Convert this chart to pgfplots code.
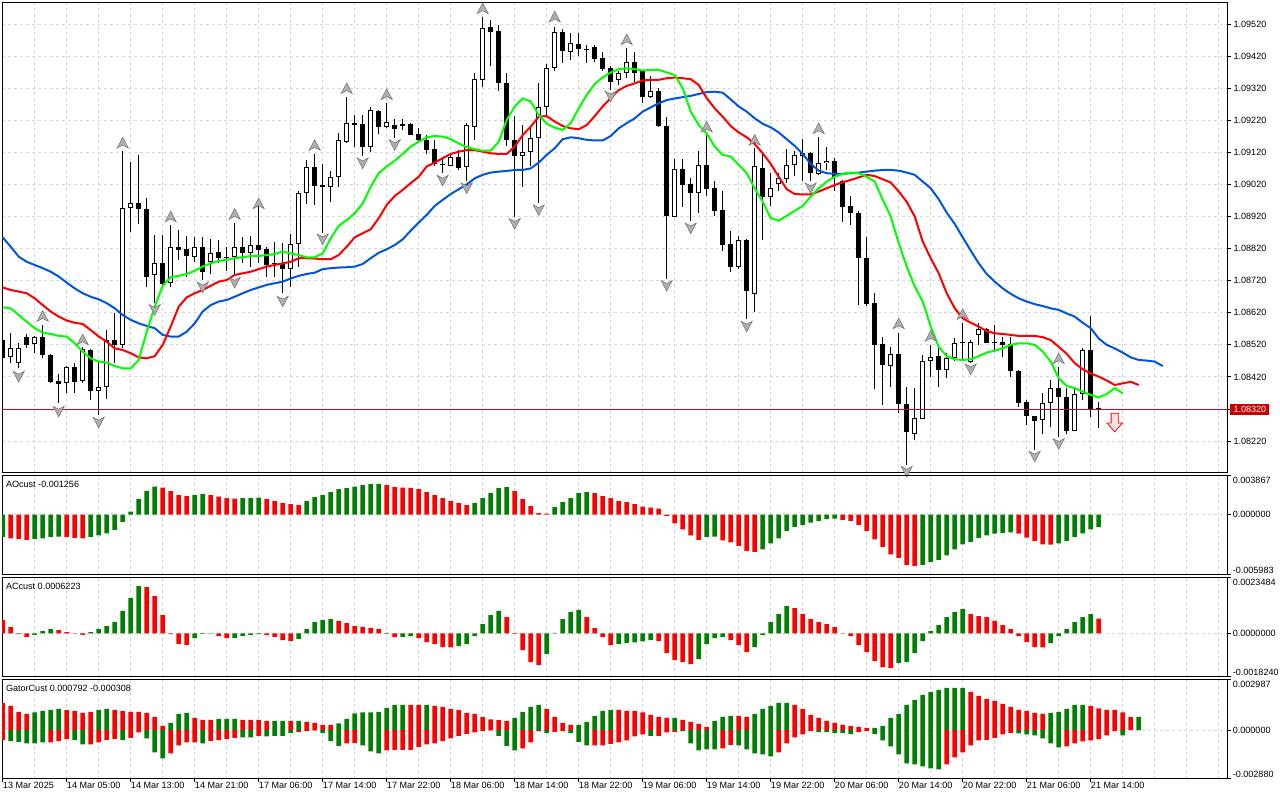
\documentclass[border=0pt]{standalone}
\usepackage{fontspec}
\setmainfont{Liberation Sans}
\usepackage{pgfplots}
\pgfplotsset{compat=1.18}
\usepackage{pgfplotstable}
\definecolor{jawc}{RGB}{0,85,221}
\definecolor{teethc}{RGB}{255,0,0}
\definecolor{lipsc}{RGB}{0,255,0}
\definecolor{hgreen}{RGB}{0,128,0}
\definecolor{hred}{RGB}{255,0,0}
\definecolor{gridc}{RGB}{216,216,216}
\definecolor{pricel}{RGB}{180,20,20}
\definecolor{pbox}{RGB}{200,0,0}
\definecolor{fracf}{RGB}{175,175,175}
\definecolor{fracd}{RGB}{115,115,115}
\definecolor{arrowf}{RGB}{255,228,228}

\pgfdeclareplotmark{fup}{%
  \pgfpathmoveto{\pgfqpoint{0pt}{4pt}}%
  \pgfpathlineto{\pgfqpoint{4.2pt}{-4pt}}%
  \pgfpathlineto{\pgfqpoint{0pt}{-1.8pt}}%
  \pgfpathlineto{\pgfqpoint{-4.2pt}{-4pt}}%
  \pgfpathclose\pgfusepathqfillstroke}
\pgfdeclareplotmark{fdown}{%
  \pgfpathmoveto{\pgfqpoint{0pt}{-4pt}}%
  \pgfpathlineto{\pgfqpoint{4.2pt}{4pt}}%
  \pgfpathlineto{\pgfqpoint{0pt}{1.8pt}}%
  \pgfpathlineto{\pgfqpoint{-4.2pt}{4pt}}%
  \pgfpathclose\pgfusepathqfillstroke}
\pgfdeclareplotmark{bigdown}{%
  \pgfpathmoveto{\pgfqpoint{-2.7pt}{0pt}}%
  \pgfpathlineto{\pgfqpoint{2.7pt}{0pt}}%
  \pgfpathlineto{\pgfqpoint{2.7pt}{-7.3pt}}%
  \pgfpathlineto{\pgfqpoint{5.8pt}{-7.3pt}}%
  \pgfpathlineto{\pgfqpoint{0pt}{-14pt}}%
  \pgfpathlineto{\pgfqpoint{-5.8pt}{-7.3pt}}%
  \pgfpathlineto{\pgfqpoint{-2.7pt}{-7.3pt}}%
  \pgfpathclose\pgfusepathqfillstroke}

\pgfplotstableread{
i O H L C
1 1.08481 1.08558 1.08463 1.08509
2 1.08463 1.08527 1.08447 1.08509
4 1.08522 1.08548 1.08496 1.08544
8 1.08400 1.08454 1.08371 1.08450
10 1.08407 1.08514 1.08402 1.08506
12 1.08377 1.08468 1.08301 1.08388
13 1.08388 1.08566 1.08350 1.08535
15 1.08519 1.09125 1.08509 1.08946
16 1.08946 1.09090 1.08873 1.08961
19 1.08737 1.08863 1.08652 1.08774
21 1.08712 1.08894 1.08699 1.08826
24 1.08795 1.08855 1.08779 1.08826
26 1.08779 1.08849 1.08741 1.08807
29 1.08793 1.08901 1.08735 1.08824
31 1.08807 1.08859 1.08764 1.08830
36 1.08758 1.08866 1.08699 1.08833
37 1.08833 1.09000 1.08764 1.08992
38 1.08992 1.09096 1.08959 1.09073
41 1.09011 1.09061 1.08966 1.09042
42 1.09042 1.09179 1.09013 1.09159
43 1.09153 1.09294 1.09150 1.09211
46 1.09136 1.09260 1.09122 1.09252
48 1.09200 1.09273 1.09195 1.09214
56 1.09079 1.09115 1.09076 1.09107
58 1.09073 1.09213 1.09032 1.09205
59 1.09200 1.09366 1.09157 1.09348
60 1.09346 1.09543 1.09323 1.09507
65 1.09110 1.09205 1.09011 1.09120
66 1.09120 1.09195 1.09076 1.09164
67 1.09164 1.09335 1.08963 1.09260
68 1.09260 1.09396 1.09233 1.09382
69 1.09382 1.09512 1.09375 1.09494
71 1.09432 1.09491 1.09408 1.09460
77 1.09344 1.09375 1.09330 1.09366
78 1.09366 1.09444 1.09351 1.09403
81 1.09294 1.09358 1.09289 1.09312
84 1.08920 1.09098 1.08918 1.09067
87 1.08992 1.09125 1.08932 1.09081
92 1.08764 1.08859 1.08756 1.08847
94 1.08678 1.09133 1.08624 1.09078
96 1.08982 1.09055 1.08953 1.09008
97 1.09022 1.09057 1.08998 1.09039
98 1.09036 1.09131 1.09026 1.09081
99 1.09081 1.09125 1.09046 1.09112
100 1.09110 1.09161 1.09032 1.09117
102 1.09053 1.09169 1.09050 1.09086
103 1.09086 1.09138 1.09065 1.09092
111 1.08454 1.08514 1.08390 1.08491
114 1.08241 1.08385 1.08224 1.08291
115 1.08289 1.08489 1.08288 1.08470
116 1.08470 1.08520 1.08419 1.08481
118 1.08442 1.08494 1.08416 1.08478
119 1.08478 1.08540 1.08470 1.08527
121 1.08468 1.08535 1.08465 1.08528
122 1.08551 1.08587 1.08520 1.08568
130 1.08286 1.08369 1.08242 1.08338
131 1.08338 1.08411 1.08263 1.08385
134 1.08253 1.08385 1.08253 1.08366
135 1.08366 1.08509 1.08348 1.08504
}\bull

\pgfplotstableread{
i O H L C
0 1.08535 1.08546 1.08468 1.08478
3 1.08544 1.08554 1.08509 1.08519
5 1.08544 1.08582 1.08478 1.08487
6 1.08487 1.08492 1.08400 1.08403
7 1.08407 1.08429 1.08338 1.08397
9 1.08450 1.08463 1.08371 1.08405
11 1.08504 1.08506 1.08348 1.08377
14 1.08535 1.08618 1.08465 1.08519
17 1.08961 1.09112 1.08897 1.08943
18 1.08943 1.08977 1.08699 1.08733
20 1.08774 1.08863 1.08699 1.08710
22 1.08826 1.08878 1.08785 1.08816
23 1.08818 1.08859 1.08731 1.08797
25 1.08826 1.08855 1.08722 1.08748
27 1.08811 1.08847 1.08774 1.08790
28 1.08794 1.08824 1.08751 1.08791
30 1.08824 1.08855 1.08774 1.08807
32 1.08830 1.08963 1.08774 1.08816
33 1.08818 1.08824 1.08733 1.08769
34 1.08776 1.08841 1.08731 1.08773
35 1.08771 1.08839 1.08681 1.08758
39 1.09073 1.09115 1.08957 1.09016
40 1.09018 1.09084 1.08870 1.09013
44 1.09211 1.09237 1.09138 1.09206
45 1.09209 1.09237 1.09109 1.09136
47 1.09249 1.09252 1.09177 1.09200
49 1.09205 1.09224 1.09166 1.09194
50 1.09207 1.09224 1.09190 1.09203
51 1.09209 1.09211 1.09173 1.09175
52 1.09176 1.09197 1.09148 1.09157
53 1.09159 1.09174 1.09115 1.09127
54 1.09130 1.09159 1.09076 1.09084
55 1.09083 1.09107 1.09057 1.09080
57 1.09107 1.09127 1.09065 1.09070
61 1.09512 1.09531 1.09389 1.09496
62 1.09498 1.09517 1.09312 1.09335
63 1.09335 1.09366 1.09140 1.09157
64 1.09159 1.09233 1.08920 1.09110
70 1.09494 1.09504 1.09400 1.09437
72 1.09458 1.09491 1.09420 1.09442
73 1.09441 1.09455 1.09400 1.09438
74 1.09447 1.09455 1.09403 1.09412
75 1.09413 1.09434 1.09373 1.09380
76 1.09382 1.09389 1.09314 1.09340
79 1.09403 1.09434 1.09340 1.09366
80 1.09372 1.09377 1.09275 1.09294
82 1.09312 1.09320 1.09200 1.09202
83 1.09202 1.09229 1.08724 1.08922
85 1.09067 1.09098 1.08951 1.09018
86 1.09022 1.09039 1.08907 1.08992
88 1.09081 1.09174 1.08985 1.09007
89 1.09008 1.09032 1.08922 1.08938
90 1.08940 1.09001 1.08814 1.08831
91 1.08833 1.08876 1.08748 1.08764
93 1.08847 1.08849 1.08600 1.08689
95 1.09070 1.09122 1.08847 1.08982
101 1.09117 1.09122 1.09032 1.09055
104 1.09093 1.09103 1.08998 1.09044
105 1.09031 1.09034 1.08904 1.08951
106 1.08953 1.08984 1.08894 1.08930
107 1.08932 1.08938 1.08644 1.08790
108 1.08792 1.08855 1.08641 1.08646
109 1.08652 1.08683 1.08381 1.08519
110 1.08523 1.08546 1.08333 1.08456
112 1.08492 1.08558 1.08307 1.08335
113 1.08336 1.08390 1.08146 1.08250
117 1.08485 1.08514 1.08388 1.08441
120 1.08529 1.08589 1.08473 1.08526
123 1.08568 1.08572 1.08525 1.08527
124 1.08530 1.08582 1.08499 1.08527
125 1.08528 1.08544 1.08481 1.08519
126 1.08522 1.08544 1.08421 1.08439
127 1.08439 1.08442 1.08327 1.08340
128 1.08341 1.08348 1.08270 1.08298
129 1.08298 1.08298 1.08192 1.08284
132 1.08385 1.08452 1.08234 1.08357
133 1.08357 1.08385 1.08242 1.08253
136 1.08504 1.08610 1.08296 1.08320
137 1.08322 1.08343 1.08260 1.08319
}\bear

\pgfplotstableread{
i jaw teeth lips
0 1.08855 1.08699 1.08637
1 1.08826 1.08691 1.08634
2 1.08795 1.08686 1.08613
3 1.08779 1.08681 1.08592
4 1.08769 1.08665 1.08572
5 1.08759 1.08644 1.08558
6 1.08748 1.08624 1.08554
7 1.08733 1.08608 1.08548
8 1.08714 1.08596 1.08546
9 1.08696 1.08589 1.08525
10 1.08681 1.08585 1.08499
11 1.08670 1.08566 1.08478
12 1.08662 1.08546 1.08468
13 1.08650 1.08530 1.08465
14 1.08634 1.08509 1.08454
15 1.08613 1.08504 1.08447
16 1.08598 1.08494 1.08447
17 1.08587 1.08481 1.08473
18 1.08579 1.08478 1.08561
19 1.08572 1.08485 1.08639
20 1.08551 1.08520 1.08704
21 1.08546 1.08577 1.08731
22 1.08546 1.08639 1.08735
23 1.08561 1.08668 1.08741
24 1.08587 1.08681 1.08751
25 1.08624 1.08691 1.08764
26 1.08644 1.08704 1.08774
27 1.08655 1.08717 1.08782
28 1.08660 1.08722 1.08785
29 1.08670 1.08738 1.08790
30 1.08681 1.08743 1.08793
31 1.08691 1.08748 1.08797
32 1.08699 1.08756 1.08797
33 1.08707 1.08764 1.08800
34 1.08712 1.08769 1.08803
35 1.08717 1.08774 1.08811
36 1.08727 1.08779 1.08805
37 1.08735 1.08790 1.08800
38 1.08741 1.08790 1.08793
39 1.08745 1.08789 1.08793
40 1.08756 1.08787 1.08805
41 1.08759 1.08787 1.08852
42 1.08761 1.08800 1.08891
43 1.08762 1.08826 1.08909
44 1.08764 1.08855 1.08930
45 1.08772 1.08868 1.08961
46 1.08790 1.08880 1.09013
47 1.08807 1.08915 1.09055
48 1.08818 1.08956 1.09076
49 1.08831 1.08984 1.09094
50 1.08849 1.09003 1.09115
51 1.08876 1.09024 1.09138
52 1.08901 1.09044 1.09153
53 1.08925 1.09076 1.09167
54 1.08953 1.09088 1.09171
55 1.08972 1.09102 1.09169
56 1.08990 1.09115 1.09161
57 1.09005 1.09122 1.09148
58 1.09020 1.09127 1.09136
59 1.09039 1.09127 1.09130
60 1.09050 1.09122 1.09125
61 1.09057 1.09117 1.09125
62 1.09060 1.09115 1.09153
63 1.09062 1.09115 1.09221
64 1.09065 1.09138 1.09263
65 1.09065 1.09174 1.09288
66 1.09070 1.09200 1.09278
67 1.09088 1.09231 1.09237
68 1.09112 1.09233 1.09209
69 1.09133 1.09216 1.09197
70 1.09161 1.09202 1.09190
71 1.09167 1.09195 1.09211
72 1.09164 1.09192 1.09257
73 1.09159 1.09205 1.09299
74 1.09157 1.09233 1.09333
75 1.09157 1.09263 1.09354
76 1.09171 1.09289 1.09369
77 1.09195 1.09314 1.09379
78 1.09211 1.09327 1.09382
79 1.09226 1.09335 1.09379
80 1.09247 1.09344 1.09375
81 1.09260 1.09346 1.09377
82 1.09273 1.09346 1.09377
83 1.09283 1.09351 1.09369
84 1.09288 1.09353 1.09361
85 1.09292 1.09351 1.09320
86 1.09296 1.09348 1.09247
87 1.09302 1.09330 1.09205
88 1.09308 1.09289 1.09179
89 1.09309 1.09257 1.09138
90 1.09306 1.09231 1.09112
91 1.09285 1.09202 1.09107
92 1.09263 1.09182 1.09081
93 1.09247 1.09167 1.09055
94 1.09226 1.09146 1.09008
95 1.09209 1.09117 1.08966
96 1.09198 1.09084 1.08915
97 1.09182 1.09044 1.08907
98 1.09161 1.09005 1.08922
99 1.09140 1.08990 1.08938
100 1.09115 1.08989 1.08953
101 1.09084 1.08989 1.08982
102 1.09063 1.08998 1.09008
103 1.09055 1.09008 1.09029
104 1.09053 1.09018 1.09044
105 1.09053 1.09027 1.09053
106 1.09055 1.09034 1.09057
107 1.09057 1.09042 1.09055
108 1.09060 1.09050 1.09044
109 1.09063 1.09046 1.09029
110 1.09065 1.09036 1.08972
111 1.09065 1.09026 1.08920
112 1.09063 1.08998 1.08837
113 1.09057 1.08966 1.08764
114 1.09050 1.08920 1.08702
115 1.09029 1.08842 1.08655
116 1.09008 1.08790 1.08577
117 1.08974 1.08743 1.08514
118 1.08932 1.08681 1.08485
119 1.08897 1.08634 1.08475
120 1.08855 1.08603 1.08473
121 1.08814 1.08589 1.08475
122 1.08774 1.08577 1.08485
123 1.08741 1.08563 1.08496
124 1.08717 1.08556 1.08502
125 1.08696 1.08554 1.08509
126 1.08679 1.08551 1.08520
127 1.08665 1.08548 1.08525
128 1.08655 1.08548 1.08525
129 1.08647 1.08548 1.08520
130 1.08641 1.08544 1.08499
131 1.08634 1.08535 1.08468
132 1.08629 1.08514 1.08416
133 1.08618 1.08492 1.08392
134 1.08608 1.08463 1.08385
135 1.08589 1.08444 1.08374
136 1.08572 1.08431 1.08364
137 1.08540 1.08421 1.08356
138 1.08520 1.08409 1.08367
139 1.08509 1.08395 1.08385
140 1.08496 1.08400 1.08369
141 1.08481 1.08405 nan
142 1.08473 1.08395 nan
143 1.08471 nan nan
144 1.08468 nan nan
145 1.08454 nan nan
}\allig

\pgfplotstableread{
i g r
0 -0.002224 nan
1 nan -0.002357
2 nan -0.002424
3 nan -0.002523
4 -0.002424 nan
5 -0.002357 nan
6 -0.002224 nan
7 -0.002191 nan
8 nan -0.002224
9 nan -0.002324
10 nan -0.002357
11 -0.002224 nan
12 -0.002058 nan
13 -0.001859 nan
14 -0.001527 nan
15 -0.000730 nan
16 0.000299 nan
17 0.001527 nan
18 0.002357 nan
19 0.002789 nan
20 nan 0.002689
21 nan 0.002324
22 nan 0.001926
23 nan 0.001826
24 0.001926 nan
25 0.002025 nan
26 nan 0.001926
27 nan 0.001793
28 nan 0.001627
29 nan 0.001594
30 0.001627 nan
31 0.001660 nan
32 0.001693 nan
33 nan 0.001527
34 nan 0.001328
35 nan 0.001129
36 nan 0.001029
37 nan 0.000930
38 0.001328 nan
39 0.001726 nan
40 0.001926 nan
41 0.002224 nan
42 0.002523 nan
43 0.002623 nan
44 0.002789 nan
45 0.002922 nan
46 0.003021 nan
47 0.003054 nan
48 nan 0.002922
49 nan 0.002722
50 nan 0.002689
51 nan 0.002656
52 nan 0.002523
53 nan 0.002224
54 nan 0.001926
55 nan 0.001627
56 nan 0.001328
57 nan 0.001129
58 nan 0.000930
59 0.001129 nan
60 0.001627 nan
61 0.002125 nan
62 0.002623 nan
63 0.002722 nan
64 nan 0.002324
65 nan 0.001527
66 nan 0.000830
67 nan 0.000133
68 nan 0.000100
69 0.000730 nan
70 0.001228 nan
71 0.001627 nan
72 0.002125 nan
73 0.002224 nan
74 nan 0.002125
75 nan 0.001826
76 nan 0.001627
77 nan 0.001328
78 nan 0.001228
79 nan 0.001029
80 nan 0.000797
81 nan 0.000697
82 nan 0.000598
83 nan -0.000133
84 nan -0.000863
85 nan -0.001461
86 nan -0.002058
87 nan -0.002523
88 -0.002224 nan
89 -0.002191 nan
90 nan -0.002556
91 nan -0.002756
92 nan -0.003121
93 nan -0.003619
94 nan -0.003718
95 -0.003453 nan
96 -0.002855 nan
97 -0.002357 nan
98 -0.001627 nan
99 -0.001228 nan
100 -0.001029 nan
101 -0.000797 nan
102 -0.000631 nan
103 -0.000432 nan
104 -0.000398 nan
105 nan -0.000531
106 nan -0.000631
107 nan -0.001029
108 nan -0.001627
109 nan -0.002457
110 nan -0.003220
111 nan -0.003951
112 nan -0.004316
113 nan -0.005013
114 nan -0.005113
115 -0.005013 nan
116 -0.004714 nan
117 -0.004515 nan
118 -0.004050 nan
119 -0.003453 nan
120 -0.002955 nan
121 -0.002722 nan
122 -0.002324 nan
123 -0.002058 nan
124 -0.001892 nan
125 -0.001826 nan
126 -0.001760 nan
127 nan -0.001892
128 nan -0.002291
129 nan -0.002623
130 nan -0.002955
131 nan -0.002988
132 -0.002855 nan
133 -0.002623 nan
134 -0.002224 nan
135 -0.001859 nan
136 -0.001461 nan
137 -0.001256 nan
}\ao

\pgfplotstableread{
i g r
0 nan 0.000562
1 nan 0.000267
2 nan -0.000028
3 nan -0.000141
4 -0.000056 nan
5 0.000098 nan
6 0.000183 nan
7 nan 0.000141
8 nan 0.000056
9 nan 0.000014
10 nan -0.000056
11 0.000056 nan
12 0.000183 nan
13 0.000309 nan
14 0.000478 nan
15 0.000955 nan
16 0.001489 nan
17 0.001995 nan
18 nan 0.001953
19 nan 0.001574
20 nan 0.000773
21 nan -0.000028
22 nan -0.000436
23 nan -0.000492
24 -0.000197 nan
25 -0.000014 nan
26 0.000014 nan
27 nan -0.000112
28 nan -0.000197
29 -0.000183 nan
30 -0.000098 nan
31 -0.000070 nan
32 -0.000028 nan
33 nan -0.000070
34 nan -0.000141
35 nan -0.000281
36 nan -0.000323
37 -0.000225 nan
38 0.000183 nan
39 0.000478 nan
40 0.000576 nan
41 0.000604 nan
42 nan 0.000534
43 nan 0.000436
44 nan 0.000309
45 nan 0.000281
46 nan 0.000239
47 nan 0.000183
48 nan -0.000014
49 nan -0.000155
50 -0.000141 nan
51 -0.000112 nan
52 nan -0.000197
53 nan -0.000365
54 nan -0.000450
55 nan -0.000576
56 nan -0.000590
57 -0.000534 nan
58 -0.000450 nan
59 -0.000112 nan
60 0.000393 nan
61 0.000773 nan
62 0.000955 nan
63 nan 0.000689
64 nan -0.000014
65 nan -0.000703
66 nan -0.001208
67 nan -0.001335
68 -0.000871 nan
69 0.000028 nan
70 0.000604 nan
71 0.000913 nan
72 0.000998 nan
73 nan 0.000689
74 nan 0.000225
75 nan -0.000155
76 nan -0.000492
77 -0.000436 nan
78 -0.000393 nan
79 -0.000379 nan
80 -0.000337 nan
81 -0.000281 nan
82 nan -0.000323
83 nan -0.000829
84 nan -0.001124
85 nan -0.001208
86 nan -0.001293
87 -0.001082 nan
88 -0.000450 nan
89 -0.000197 nan
90 -0.000141 nan
91 nan -0.000281
92 nan -0.000492
93 nan -0.000787
94 -0.000576 nan
95 -0.000070 nan
96 0.000478 nan
97 0.000815 nan
98 0.001152 nan
99 nan 0.001068
100 nan 0.000815
101 nan 0.000604
102 nan 0.000478
103 nan 0.000393
104 nan 0.000267
105 nan 0.000014
106 nan -0.000112
107 nan -0.000492
108 nan -0.000787
109 nan -0.001166
110 nan -0.001419
111 nan -0.001461
112 -0.001251 nan
113 -0.001208 nan
114 -0.000829 nan
115 -0.000323 nan
116 0.000098 nan
117 0.000351 nan
118 0.000689 nan
119 0.000899 nan
120 0.001026 nan
121 nan 0.000815
122 nan 0.000731
123 nan 0.000689
124 nan 0.000534
125 nan 0.000351
126 nan 0.000183
127 nan -0.000112
128 nan -0.000365
129 nan -0.000576
130 nan -0.000590
131 -0.000408 nan
132 -0.000112 nan
133 0.000183 nan
134 0.000478 nan
135 0.000689 nan
136 0.000815 nan
137 nan 0.000622
}\ac

\pgfplotstableread{
i ug ur lg lr
0 nan 0.001620 nan -0.000593
1 nan 0.001442 -0.000652 nan
2 nan 0.001086 -0.000691 nan
3 nan 0.000968 -0.000790 nan
4 0.001047 nan -0.000790 nan
5 0.001146 nan -0.000731 nan
6 0.001205 nan nan -0.000731
7 0.001264 nan nan -0.000652
8 nan 0.001185 nan -0.000533
9 nan 0.001146 -0.000593 nan
10 nan 0.001027 -0.000849 nan
11 nan 0.001086 nan -0.000849
12 0.001205 nan nan -0.000731
13 0.001264 nan nan -0.000573
14 nan 0.001205 nan -0.000514
15 nan 0.001126 -0.000593 nan
16 nan 0.001086 nan -0.000454
17 nan 0.001086 nan -0.000138
18 nan 0.001027 -0.000494 nan
19 nan 0.000790 -0.001323 nan
20 nan 0.000257 -0.001679 nan
21 0.000435 nan nan -0.001383
22 0.000968 nan nan -0.000909
23 0.001027 nan nan -0.000731
24 nan 0.000731 nan -0.000731
25 nan 0.000612 -0.000790 nan
26 nan 0.000612 nan -0.000652
27 0.000672 nan nan -0.000593
28 0.000672 nan nan -0.000533
29 0.000672 nan nan -0.000454
30 nan 0.000612 -0.000435 nan
31 nan 0.000612 -0.000435 nan
32 nan 0.000612 nan -0.000336
33 nan 0.000553 -0.000375 nan
34 0.000553 nan -0.000336 nan
35 0.000553 nan -0.000336 nan
36 nan 0.000553 -0.000178 nan
37 0.000553 nan nan -0.000099
38 nan 0.000494 nan -0.000059
39 nan 0.000435 nan -0.000020
40 nan 0.000316 -0.000178 nan
41 nan 0.000316 -0.000652 nan
42 0.000395 nan -0.000928 nan
43 0.000672 nan nan -0.000790
44 0.000988 nan nan -0.000770
45 0.001047 nan -0.000909 nan
46 0.001047 nan -0.001264 nan
47 0.001086 nan -0.001383 nan
48 0.001323 nan nan -0.001205
49 0.001501 nan nan -0.001165
50 0.001501 nan nan -0.001165
51 nan 0.001501 nan -0.001165
52 nan 0.001501 nan -0.000988
53 0.001501 nan nan -0.000849
54 nan 0.001442 nan -0.000790
55 nan 0.001383 nan -0.000652
56 nan 0.001264 nan -0.000494
57 nan 0.001185 nan -0.000336
58 nan 0.001027 nan -0.000217
59 nan 0.000968 nan -0.000138
60 nan 0.000790 nan -0.000059
61 nan 0.000632 nan -0.000020
62 nan 0.000593 -0.000336 nan
63 nan 0.000553 -0.000928 nan
64 0.000731 nan -0.001205 nan
65 0.001086 nan nan -0.001086
66 0.001383 nan nan -0.000731
67 0.001501 nan nan -0.000059
68 nan 0.001264 -0.000178 nan
69 nan 0.000790 nan -0.000099
70 nan 0.000435 nan -0.000059
71 nan 0.000316 -0.000178 nan
72 0.000316 nan -0.000691 nan
73 0.000494 nan -0.000909 nan
74 0.000849 nan nan -0.000909
75 0.001146 nan nan -0.000909
76 0.001205 nan nan -0.000810
77 nan 0.001205 nan -0.000731
78 nan 0.001146 nan -0.000612
79 nan 0.001146 nan -0.000375
80 nan 0.001047 nan -0.000257
81 nan 0.000909 -0.000336 nan
82 nan 0.000790 nan -0.000336
83 nan 0.000731 nan -0.000138
84 0.000731 nan nan -0.000099
85 nan 0.000612 -0.000059 nan
86 nan 0.000494 -0.000790 nan
87 nan 0.000375 -0.001205 nan
88 nan 0.000198 -0.001146 nan
89 0.000553 nan -0.001146 nan
90 0.000790 nan nan -0.001086
91 0.000849 nan nan -0.000869
92 nan 0.000849 -0.000909 nan
93 nan 0.000790 -0.001146 nan
94 0.000968 nan -0.001383 nan
95 0.001264 nan -0.001442 nan
96 0.001442 nan -0.001560 nan
97 0.001620 nan nan -0.001323
98 0.001620 nan nan -0.000790
99 nan 0.001501 nan -0.000435
100 nan 0.001264 nan -0.000257
101 nan 0.000909 nan -0.000059
102 nan 0.000731 -0.000119 nan
103 nan 0.000553 -0.000119 nan
104 nan 0.000435 -0.000178 nan
105 nan 0.000316 -0.000178 nan
106 nan 0.000257 -0.000237 nan
107 nan 0.000198 nan -0.000119
108 nan 0.000138 nan -0.000059
109 0.000138 nan -0.000237 nan
110 0.000257 nan -0.000612 nan
111 0.000731 nan -0.000968 nan
112 0.000968 nan -0.001442 nan
113 0.001501 nan -0.001975 nan
114 0.001797 nan -0.002034 nan
115 0.002094 nan -0.002153 nan
116 0.002271 nan -0.002271 nan
117 0.002390 nan -0.002331 nan
118 0.002508 nan nan -0.002034
119 0.002508 nan nan -0.001620
120 0.002508 nan nan -0.001323
121 nan 0.002271 nan -0.000909
122 nan 0.002034 nan -0.000612
123 nan 0.001857 nan -0.000573
124 nan 0.001738 nan -0.000454
125 nan 0.001560 nan -0.000257
126 nan 0.001383 nan -0.000158
127 nan 0.001205 -0.000198 nan
128 nan 0.001146 -0.000257 nan
129 nan 0.001027 -0.000316 nan
130 nan 0.000968 -0.000494 nan
131 0.001027 nan -0.000790 nan
132 0.001086 nan -0.001027 nan
133 0.001264 nan nan -0.000968
134 0.001501 nan nan -0.000790
135 0.001501 nan nan -0.000672
136 nan 0.001442 nan -0.000612
137 nan 0.001284 nan -0.000533
138 nan 0.001205 nan -0.000316
139 nan 0.001205 nan -0.000059
140 nan 0.001047 -0.000308 nan
141 nan 0.000771 nan nan
142 0.000792 nan nan nan
}\gator

\tikzset{lbl/.style={font=\fontsize{6.8}{8}\selectfont, inner sep=0pt, anchor=west}}
\pgfplotsset{
  panel/.style={
    scale only axis, width=919.125pt, xmin=-0.0875, xmax=153.1,
    anchor=south west,
    scaled x ticks=false, scaled y ticks=false,
    axis line style={line width=0.75pt, black},
    clip mode=individual,
    xtick={0,4,...,152}, xticklabels={}, xmajorgrids,
    xtick style={draw=none},
    grid style={draw=gridc, line width=0.75pt, dash pattern=on 2.25pt off 2.25pt},
    minor grid style={draw=gridc, line width=0.75pt, dash pattern=on 2.25pt off 2.25pt},
    ytick pos=right, tick align=outside, major tick length=2.5pt,
    ytick style={draw=black, line width=0.75pt},
    yticklabels={},
  },
  hist/.style={ybar, bar width=3.4pt, bar shift=0pt, draw=none},
}

\begin{document}
\begin{tikzpicture}[x=1pt,y=1pt]
\useasboundingbox (0,0) rectangle (960,-600);

% ---------------- main price panel
\begin{axis}[panel, at={(1.5pt,-354.525pt)}, height=352.65pt,
  ymin=1.081216, ymax=1.09587, ymajorgrids,
  ytick={1.0822,1.0832,1.0842,1.0852,1.0862,1.0872,1.0882,1.0892,1.0902,1.0912,1.0922,1.0932,1.0942,1.0952}]
% wicks
\addplot[draw=none, mark=none, error bars/.cd, y dir=plus, y explicit, error mark=none,
  error bar style={draw=black, line width=0.75pt}]
  table[x=i, y=L, y error plus expr=\thisrow{H}-\thisrow{L}] {\bull};
\addplot[draw=none, mark=none, error bars/.cd, y dir=plus, y explicit, error mark=none,
  error bar style={draw=black, line width=0.75pt}]
  table[x=i, y=L, y error plus expr=\thisrow{H}-\thisrow{L}] {\bear};
% bear bodies
\addplot[draw=none, mark=none, error bars/.cd, y dir=plus, y explicit, error mark=none,
  error bar style={draw=black, line width=3.75pt}]
  table[x=i, y=C, y error plus expr=\thisrow{O}-\thisrow{C}] {\bear};
% bull bodies
\addplot[draw=none, mark=none, error bars/.cd, y dir=plus, y explicit, error mark=none,
  error bar style={draw=black, line width=3.75pt}]
  table[x=i, y=O, y error plus expr=\thisrow{C}-\thisrow{O}] {\bull};
\addplot[draw=none, mark=none, error bars/.cd, y dir=plus, y explicit, error mark=none,
  error bar style={draw=white, line width=2.25pt, shorten <=0.75pt, shorten >=0.75pt}]
  table[x=i, y=O, y error plus expr=\thisrow{C}-\thisrow{O}] {\bull};
% price line
\addplot[pricel, line width=0.75pt] coordinates {(-1,1.0832) (160,1.0832)};
% alligator
\addplot[jawc, line width=1.5pt] table[x=i, y=jaw] {\allig};
\addplot[teethc, line width=1.5pt] table[x=i, y=teeth] {\allig};
\addplot[lipsc, line width=1.5pt] table[x=i, y=lips] {\allig};
% fractals
\addplot[only marks, mark=fup, mark options={fill=fracf, draw=fracd, line width=0.4pt}] coordinates {
(5,1.08610) (10,1.08537) (15,1.09150) (21,1.08920) (29,1.08928) (32,1.08961) (39,1.09143)
(43,1.09320) (48,1.09301) (60,1.09569) (69,1.09543) (78,1.09472) (88,1.09200) (94,1.09159)
(102,1.09195) (112,1.08587) (116,1.08548) (120,1.08616) (132,1.08478)};
\addplot[only marks, mark=fdown, mark options={fill=fracf, draw=fracd, line width=0.4pt}] coordinates {
(2,1.08421) (7,1.08312) (12,1.08278) (19,1.08629) (25,1.08699) (29,1.08714) (35,1.08655)
(40,1.08849) (45,1.09086) (49,1.09143) (55,1.09032) (58,1.09008) (64,1.08897) (67,1.08940)
(76,1.09294) (83,1.08704) (86,1.08883) (93,1.08577) (101,1.09008) (113,1.08125) (121,1.08444)
(129,1.08172) (132,1.08211)};
% sell arrow
\addplot[only marks, mark=bigdown, mark options={fill=arrowf, draw=red, line width=0.6pt}] coordinates {(139,1.08307)};
% price scale labels
\node[lbl, xshift=4.35pt] at (axis cs:153.1,1.0952) {1.09520};
\node[lbl, xshift=4.35pt] at (axis cs:153.1,1.0942) {1.09420};
\node[lbl, xshift=4.35pt] at (axis cs:153.1,1.0932) {1.09320};
\node[lbl, xshift=4.35pt] at (axis cs:153.1,1.0922) {1.09220};
\node[lbl, xshift=4.35pt] at (axis cs:153.1,1.0912) {1.09120};
\node[lbl, xshift=4.35pt] at (axis cs:153.1,1.0902) {1.09020};
\node[lbl, xshift=4.35pt] at (axis cs:153.1,1.0892) {1.08920};
\node[lbl, xshift=4.35pt] at (axis cs:153.1,1.0882) {1.08820};
\node[lbl, xshift=4.35pt] at (axis cs:153.1,1.0872) {1.08720};
\node[lbl, xshift=4.35pt] at (axis cs:153.1,1.0862) {1.08620};
\node[lbl, xshift=4.35pt] at (axis cs:153.1,1.0852) {1.08520};
\node[lbl, xshift=4.35pt] at (axis cs:153.1,1.0842) {1.08420};
\node[lbl, xshift=4.35pt] at (axis cs:153.1,1.0822) {1.08220};
\node[lbl, fill=pbox, text=white, inner xsep=2.4pt, inner ysep=1.7pt, xshift=1.9pt] at (axis cs:153.1,1.0832) {1.08320};
\end{axis}

% ---------------- AO panel
\begin{axis}[panel, at={(1.5pt,-431.025pt)}, height=74.25pt,
  ymin=-0.005983, ymax=0.003867, ytick={0}, ymajorgrids,
  extra y ticks={-0.005983,0.003867}, extra y tick labels={}, extra y tick style={ymajorgrids=false}]
\addplot[hist, fill=hgreen] table[x=i, y=g] {\ao};
\addplot[hist, fill=hred] table[x=i, y=r] {\ao};
\node[lbl, xshift=2.8pt, yshift=-6.75pt] at (axis description cs:0,1) {AOcust -0.001256};
\node[lbl, xshift=3.75pt, yshift=-3.75pt] at (axis cs:153.1,0.003867) {0.003867};
\node[lbl, xshift=3.75pt] at (axis cs:153.1,0) {0.000000};
\node[lbl, xshift=3.75pt, yshift=3.5pt] at (axis cs:153.1,-0.005983) {-0.005983};
\end{axis}

% ---------------- AC panel
\begin{axis}[panel, at={(1.5pt,-507.525pt)}, height=74.25pt,
  ymin=-0.0018240, ymax=0.0023484, ytick={0}, ymajorgrids,
  extra y ticks={-0.0018240,0.0023484}, extra y tick labels={}, extra y tick style={ymajorgrids=false}]
\addplot[hist, fill=hgreen] table[x=i, y=g] {\ac};
\addplot[hist, fill=hred] table[x=i, y=r] {\ac};
\node[lbl, xshift=2.8pt, yshift=-6.75pt] at (axis description cs:0,1) {ACcust 0.0006223};
\node[lbl, xshift=3.75pt, yshift=-3.75pt] at (axis cs:153.1,0.0023484) {0.0023484};
\node[lbl, xshift=3.75pt] at (axis cs:153.1,0) {0.0000000};
\node[lbl, xshift=3.75pt, yshift=3.5pt] at (axis cs:153.1,-0.0018240) {-0.0018240};
\end{axis}

% ---------------- Gator panel
\begin{axis}[panel, at={(1.5pt,-584.025pt)}, height=74.25pt,
  ymin=-0.002880, ymax=0.002987, ytick={0}, ymajorgrids,
  extra y ticks={-0.002880,0.002987}, extra y tick labels={}, extra y tick style={ymajorgrids=false},
  xtick={0,8,...,136}, minor xtick={4,8,...,152}, xminorgrids, minor tick length=0pt,
  xtick pos=left, xtick style={draw=black, line width=0.75pt}]
\addplot[hist, fill=hgreen] table[x=i, y=ug] {\gator};
\addplot[hist, fill=hred] table[x=i, y=ur] {\gator};
\addplot[hist, fill=hgreen] table[x=i, y=lg] {\gator};
\addplot[hist, fill=hred] table[x=i, y=lr] {\gator};
\node[lbl, xshift=2.8pt, yshift=-6.75pt] at (axis description cs:0,1) {GatorCust 0.000792 -0.000308};
\node[lbl, xshift=3.75pt, yshift=-3.75pt] at (axis cs:153.1,0.002987) {0.002987};
\node[lbl, xshift=3.75pt] at (axis cs:153.1,0) {0.000000};
\node[lbl, xshift=3.75pt, yshift=3.5pt] at (axis cs:153.1,-0.002880) {-0.002880};
\node[lbl, anchor=north west, yshift=-2.2pt] at (axis cs:0,-0.00288) {13 Mar 2025};
\node[lbl, anchor=north west, yshift=-2.2pt] at (axis cs:8,-0.00288) {14 Mar 05:00};
\node[lbl, anchor=north west, yshift=-2.2pt] at (axis cs:16,-0.00288) {14 Mar 13:00};
\node[lbl, anchor=north west, yshift=-2.2pt] at (axis cs:24,-0.00288) {14 Mar 21:00};
\node[lbl, anchor=north west, yshift=-2.2pt] at (axis cs:32,-0.00288) {17 Mar 06:00};
\node[lbl, anchor=north west, yshift=-2.2pt] at (axis cs:40,-0.00288) {17 Mar 14:00};
\node[lbl, anchor=north west, yshift=-2.2pt] at (axis cs:48,-0.00288) {17 Mar 22:00};
\node[lbl, anchor=north west, yshift=-2.2pt] at (axis cs:56,-0.00288) {18 Mar 06:00};
\node[lbl, anchor=north west, yshift=-2.2pt] at (axis cs:64,-0.00288) {18 Mar 14:00};
\node[lbl, anchor=north west, yshift=-2.2pt] at (axis cs:72,-0.00288) {18 Mar 22:00};
\node[lbl, anchor=north west, yshift=-2.2pt] at (axis cs:80,-0.00288) {19 Mar 06:00};
\node[lbl, anchor=north west, yshift=-2.2pt] at (axis cs:88,-0.00288) {19 Mar 14:00};
\node[lbl, anchor=north west, yshift=-2.2pt] at (axis cs:96,-0.00288) {19 Mar 22:00};
\node[lbl, anchor=north west, yshift=-2.2pt] at (axis cs:104,-0.00288) {20 Mar 06:00};
\node[lbl, anchor=north west, yshift=-2.2pt] at (axis cs:112,-0.00288) {20 Mar 14:00};
\node[lbl, anchor=north west, yshift=-2.2pt] at (axis cs:120,-0.00288) {20 Mar 22:00};
\node[lbl, anchor=north west, yshift=-2.2pt] at (axis cs:128,-0.00288) {21 Mar 06:00};
\node[lbl, anchor=north west, yshift=-2.2pt] at (axis cs:136,-0.00288) {21 Mar 14:00};
\end{axis}
\end{tikzpicture}
\end{document}
